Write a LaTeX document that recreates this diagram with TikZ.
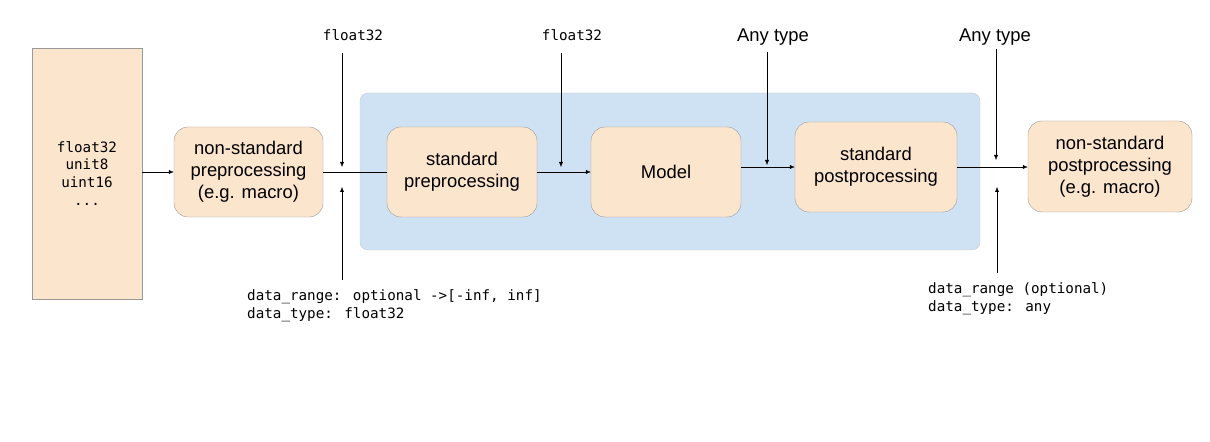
\documentclass[tikz,border=0pt]{standalone}
\usepackage{fontspec}
\setmainfont{Liberation Sans}
\newfontfamily\codefont{DejaVu Sans Mono}
\usetikzlibrary{arrows.meta}
\definecolor{peach}{HTML}{FCE5CD}
\definecolor{skyfill}{HTML}{CFE2F3}
\tikzset{
  stage/.style={draw=black!40, fill=peach, rounded corners=14bp, minimum width=150bp, minimum height=90bp, align=center, font=\fontsize{18.5}{22}\selectfont, inner sep=0pt},
  code/.style={font=\codefont\fontsize{14.3}{18}\selectfont, inner sep=0pt},
  title/.style={font=\fontsize{18.5}{22}\selectfont, inner sep=0pt},
  arr/.style={-{Latex[length=5bp,width=4bp]}, thin},
}
\begin{document}
\begin{tikzpicture}[x=1bp, y=-1bp]
        \useasboundingbox (0,0) rectangle (1210,442);
        \fill[white] (0,0) rectangle (1210,442);
        \draw[draw=black!20, fill=skyfill, rounded corners=8bp] (360,93) rectangle (980,250);
        \node [draw=black!40, fill=peach, minimum width=110bp, minimum height=251bp, align=center, code] (types) at (87,173.5) {float32\\unit8\\uint16\\...};
        \node [stage, minimum width=149bp] (pre) at (248.5,172) {non-standard\\preprocessing\\(e.g. macro)};
        \node [stage] (stdpre) at (462,172) {standard\\preprocessing};
        \node [stage] (model) at (666,172) {Model};
        \node [stage, minimum width=162bp] (stdpost) at (876,167) {standard\\postprocessing};
        \node [stage, minimum width=164bp, minimum height=91bp] (post) at (1110,166.5) {non-standard\\postprocessing\\(e.g. macro)};
        \draw[arr] (types.east |- pre.west) -- (pre.west);
        \draw (pre.east) -- (stdpre.west);
        \draw[arr] (stdpre.east) -- (model.west);
        \draw[arr] (model.east |- stdpost.west) -- (stdpost.west);
        \draw[arr] (stdpost.east) -- (post.west |- stdpost.east);
        \node [code] (typein) at (353,35) {float32};
        \node [code] (typemid) at (572,35) {float32};
        \node [title] (anymodel) at (773,37) {Any type};
        \node [title] (anyout) at (995,37) {Any type};
        \node [code, anchor=north west, align=left] (rangein) at (247,289) {data\_range: optional ->[-inf, inf]\\data\_type: float32};
        \node [code, anchor=north west, align=left] (rangeout) at (928,282) {data\_range (optional)\\data\_type: any};
        \coordinate (a1) at (342,53);
        \coordinate (a2) at (342,167);
        \coordinate (a3) at (342,280);
        \coordinate (a4) at (342,187);
        \coordinate (b1) at (561,53);
        \coordinate (b2) at (561,167);
        \coordinate (c1) at (767,52);
        \coordinate (c2) at (767,165);
        \coordinate (d1) at (996,49);
        \coordinate (d2) at (996,160);
        \coordinate (d3) at (997,273);
        \coordinate (d4) at (997,187);
        \draw[arr] (a1) -- (a2);
        \draw[arr] (a3) -- (a4);
        \draw[arr] (b1) -- (b2);
        \draw[arr] (c1) -- (c2);
        \draw[arr] (d1) -- (d2);
        \draw[arr] (d3) -- (d4);
    \end{tikzpicture}
\end{document}
